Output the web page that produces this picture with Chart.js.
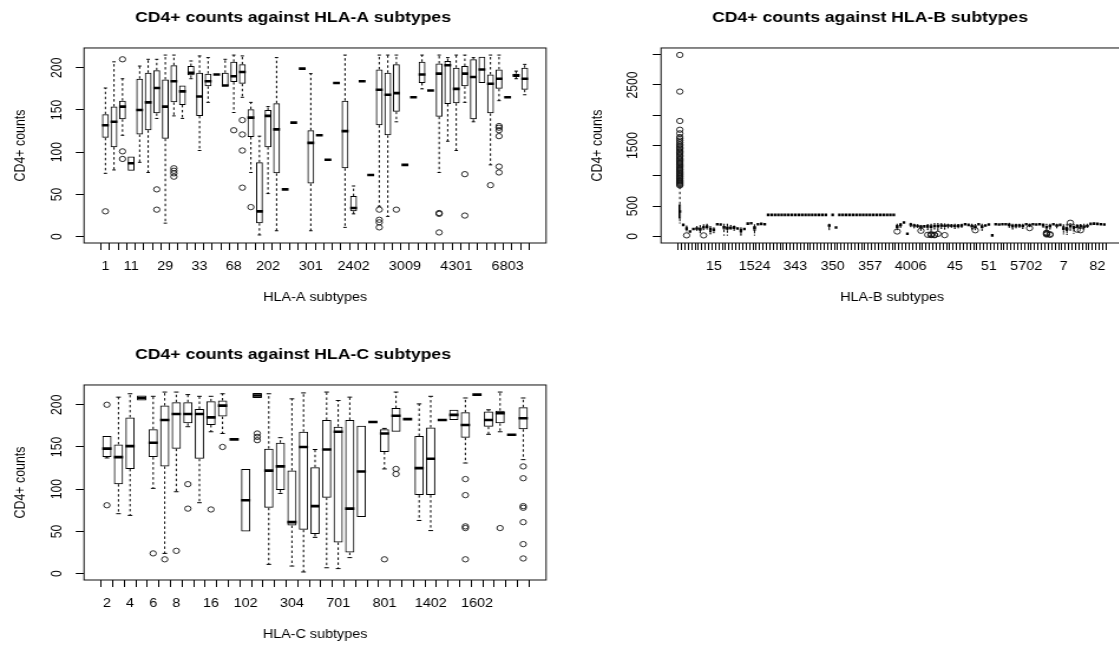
<!DOCTYPE html>
<html><head><meta charset="utf-8">
<script src="https://cdn.jsdelivr.net/npm/chart.js@4.4.1/dist/chart.umd.min.js"></script>
<style>
html,body{margin:0;padding:0;background:#fff;overflow:hidden;width:1119px;height:646px;}
canvas{position:absolute;transform-origin:0 0;transform:scaleX(1.18);}
</style></head>
<body>
<canvas id="cA" width="534" height="320" style="left:0px;top:0px"></canvas>
<canvas id="cB" width="534" height="320" style="left:577px;top:0px"></canvas>
<canvas id="cC" width="534" height="320" style="left:0px;top:337px"></canvas>
<script>
// ---------- HLA-A ----------
const aLabelPos  = [0, 3, 7, 11, 15, 19, 24, 29, 35, 41, 47];
const aLabelText = ['1','11','29','33','68','202','301','2402','3009','4301','6803'];
const aLo  = [75,79,120,78,88,76,140,16,143,140,187,102,159,192,178,147,165,76,2,51,7,56,135,199,7,120,91,182,11,27,184,73,36,24,136,85,165,175,173,76,113,102,159,136,182,85,161,165,187,168];
const aQ1  = [117,106,139,78,121,126,146,116,159,156,191,143,178,192,178,183,181,118,16,106,75,56,135,199,63,120,91,182,81,30,184,73,132,120,148,85,165,182,173,142,157,158,178,139,182,146,175,165,189,174];
const aMed = [132,136,154,87,150,159,176,154,184,172,194,166,184,192,179,190,195,141,30,143,127,56,135,199,111,120,91,182,125,34,184,73,174,168,170,85,165,192,173,193,203,175,193,189,198,181,187,165,191,187];
const aQ3  = [145,154,161,95,187,194,197,186,203,179,202,194,193,192,194,207,204,151,88,150,158,56,135,199,126,120,91,182,161,48,184,73,198,194,204,85,165,207,173,205,208,200,202,210,213,192,198,165,193,200];
const aHi  = [176,207,187,95,202,210,210,215,215,179,208,214,212,192,210,215,214,159,119,154,212,56,135,199,193,120,91,182,215,60,184,73,215,215,215,85,165,215,173,215,212,215,215,212,213,215,215,165,196,204];
const aOutIdx = [0,2,2,2,6,6,8,8,8,8,15,16,16,16,16,17,32,32,32,32,34,39,39,39,42,42,45,46,46,46,46,46,46];
const aOutVal = [30,210,101,92,56,32,81,78,75,71,126,138,121,102,58,35,32,20,17,11,32,28,27,5,74,25,61,131,129,126,119,83,76];
const aYTicks = [0,50,100,150,200];
const aYLabels = [0,50,100,150,200];

// ---------- HLA-B ----------
const bLabelPos  = [10, 22, 34, 45, 56, 68, 81, 91, 102, 113, 123];
const bLabelText = ['15','1524','343','350','357','4006','45','51','5702','7','82'];
const bLo = [220,190,90,80,120,100,60,110,120,40,60,200,195,20,20,120,100,130,20,120,210,215,20,200,205,200,
 355,355,355,355,355,355,355,355,355,355,355,355,355,355,355,355,355,355,
 110,355,147,
 355,355,355,355,355,355,355,355,355,355,355,355,355,355,355,355,355,
 110,150,228,43,160,140,150,100,165,110,100,120,100,130,120,140,150,130,140,150,200,190,120,110,200,100,180,195,16,200,195,200,200,150,120,140,150,130,200,160,200,195,200,150,100,120,200,140,190,40,30,100,50,140,130,120,150,205,210,205,200,195];
const bQ1 = [290,190,100,80,120,110,90,130,130,70,80,200,195,110,100,130,120,130,60,120,210,215,90,200,205,200,
 355,355,355,355,355,355,355,355,355,355,355,355,355,355,355,355,355,355,
 160,355,147,
 355,355,355,355,355,355,355,355,355,355,355,355,355,355,355,355,355,
 130,170,228,43,180,170,160,130,165,140,130,150,140,160,150,160,165,150,160,170,200,190,140,130,200,130,180,195,16,200,195,200,200,170,140,160,165,150,200,175,200,195,200,170,130,140,200,160,190,100,90,140,120,160,150,140,160,205,210,205,200,195];
const bMed = [410,190,130,80,120,130,120,150,160,120,110,200,195,150,140,140,150,130,90,120,210,215,140,200,205,200,
 355,355,355,355,355,355,355,355,355,355,355,355,355,355,355,355,355,355,
 180,355,147,
 355,355,355,355,355,355,355,355,355,355,355,355,355,355,355,355,355,
 160,190,228,43,195,180,170,160,165,165,160,170,170,180,175,180,175,170,175,180,200,190,170,160,200,160,180,195,16,200,195,200,200,190,170,180,180,170,200,185,200,195,200,185,150,170,200,180,190,130,120,170,150,170,170,160,170,205,210,205,200,195];
const bQ3 = [530,190,150,80,120,140,150,160,170,145,130,200,195,170,160,160,160,130,120,120,210,215,170,200,205,200,
 355,355,355,355,355,355,355,355,355,355,355,355,355,355,355,355,355,355,
 190,355,147,
 355,355,355,355,355,355,355,355,355,355,355,355,355,355,355,355,355,
 190,200,228,43,200,190,180,170,165,180,180,190,190,195,190,190,185,185,185,190,200,190,185,180,200,185,180,195,16,200,195,200,200,205,190,190,190,190,200,195,200,195,200,195,180,190,200,190,190,170,160,190,180,180,180,180,190,205,210,205,200,195];
const bHi = [830,190,170,80,120,160,175,190,200,160,140,200,195,200,200,180,170,130,140,120,210,215,190,200,205,200,
 355,355,355,355,355,355,355,355,355,355,355,355,355,355,355,355,355,355,
 200,355,147,
 355,355,355,355,355,355,355,355,355,355,355,355,355,355,355,355,355,
 200,210,228,43,215,200,190,180,165,195,200,210,210,210,205,200,195,200,195,200,200,190,200,195,200,200,180,195,16,200,195,200,200,215,200,200,200,200,200,200,200,195,200,205,200,200,200,200,190,190,200,210,200,190,195,200,200,205,210,205,200,195];
const bOutIdx = [0,0,0,0,0,0,0,0,0,0,0,0,0,0,0,0,0,0,0,0,0,0,0,0,0,0,0,0,0,0,0,0,0,0,0,0,0,0,0,0,0,0,0,0,0,
 2,7,64,71,73,74,74,74,75,75,76,78,87,103,108,108,108,108,109,109,115,117,118];
const bOutVal = [840,855,870,885,900,915,930,950,965,985,1000,1020,1040,1055,1075,1095,1110,1130,1150,1170,1190,1210,1230,1250,1270,1290,1315,1335,1360,1380,1400,1425,1450,1470,1495,1520,1550,1580,1610,1640,1700,1760,1905,2390,2995,
 16,16,80,92,25,20,28,35,18,26,40,20,100,136,60,50,40,30,35,25,225,110,100];
const bYTicks = [0,500,1000,1500,2000,2500,3000];
const bYLabels = [0,500,1500,2500];

// ---------- HLA-C ----------
const cLabelPos  = [0, 2, 4, 6, 9, 12, 16, 20, 24, 28, 32];
const cLabelText = ['2','4','6','8','16','102','304','701','801','1402','1602'];
const cLo  = [137,71,69,205,101,24,97,174,84,168,166,159,50,208,11,95,9,2,43,7,6,19,67,179.5,124,168,183,63,51,182,182,131,212,165,168,164.5,135];
const cQ1  = [138,106,124,205,138,127,148,178,136,176,186,159,50,208,78,99,57,52,47,90,37,25,67,179.5,144,168,183,93,93,182,182,161,212,174,178,164.5,171];
const cMed = [148,138,151,208,155,182,189,189,189,185,199,159,87,211,122,127,61,150,80,147,168,77,121,179.5,166,187,183,125,136,182,188,176,212,182,190,164.5,184];
const cQ3  = [163,153,185,211,171,199,203,203,195,204,205,159,124,214,148,155,122,168,126,182,174,182,175,179.5,171,196,183,163,173,182,194,191,212,192,193,164.5,197];
const cHi  = [163,209,213,211,210,215,215,212,210,210,213,159,124,214,213,161,207,214,147,215,205,209,175,179.5,172,215,183,201,210,182,194,208,212,194,215,164.5,208];
const cOutIdx = [0,0,4,5,6,7,7,9,10,13,13,13,24,25,25,31,31,31,31,31,34,36,36,36,36,36,36,36];
const cOutVal = [200,81,24,17,27,106,77,76,150,166,162,158,17,124,118,112,93,56,54,17,54,127,113,80,78,61,35,18];

Chart.defaults.font.family = '"Liberation Sans", Arial, Helvetica, sans-serif';
Chart.defaults.color = '#000';
Chart.defaults.animation = false;

const CANVAS_W = 534, AREA_L = 71.2, AREA_R = 462.8, AXIS_H = 77, PAD_R = 37.3;

const framePlugin = {
  id: 'frame',
  afterDraw(chart) {
    const {ctx, chartArea: a} = chart;
    ctx.save();
    ctx.strokeStyle = '#111';
    ctx.lineWidth = 1;
    ctx.strokeRect(a.left, a.top, a.right - a.left, a.bottom - a.top);
    ctx.restore();
  }
};

function panel(id, P) {
  const n = P.med.length;
  const boxes = [], meds = [], caps = [], whisk = [], outs = [];
  for (let i = 0; i < n; i++) {
    boxes.push({x: i, y: [P.q1[i], P.q3[i]]});
    meds.push({x: i, y: P.med[i]});
    if (P.hi[i] > P.q3[i]) {
      whisk.push({x: i, y: P.q3[i]}, {x: i, y: P.hi[i]}, {x: i, y: null});
      caps.push({x: i, y: P.hi[i]});
    }
    if (P.lo[i] < P.q1[i]) {
      whisk.push({x: i, y: P.q1[i]}, {x: i, y: P.lo[i]}, {x: i, y: null});
      caps.push({x: i, y: P.lo[i]});
    }
  }
  for (let j = 0; j < P.outIdx.length; j++) outs.push({x: P.outIdx[j], y: P.outVal[j]});
  const ext = 0.04 * n;
  const xmin = -0.5 - ext, xmax = n - 0.5 + ext;
  const step = (AREA_R - AREA_L) / (xmax - xmin);
  const bw = 0.8 * step;
  const tickFont = {size: 12.2};
  new Chart(document.getElementById(id), {
    type: 'bar',
    data: {datasets: [
      {type: 'scatter', data: meds, pointStyle: 'line', pointRadius: bw / 2, pointHoverRadius: bw / 2,
       borderColor: '#000', pointBorderColor: '#000', pointBorderWidth: 2.6, order: 0},
      {type: 'scatter', data: outs, pointStyle: 'circle', pointRadius: 2.65, pointHoverRadius: 2.65,
       borderColor: '#000', pointBorderColor: '#111', pointBackgroundColor: 'rgba(0,0,0,0)', pointBorderWidth: 0.9, order: 1},
      {type: 'scatter', data: caps, pointStyle: 'line', pointRadius: bw / 4, pointHoverRadius: bw / 4,
       borderColor: '#000', pointBorderColor: '#000', pointBorderWidth: 1, order: 1},
      {type: 'bar', data: boxes, backgroundColor: 'rgba(0,0,0,0)', borderColor: '#000', borderWidth: 1,
       borderSkipped: false, barPercentage: 0.8, categoryPercentage: 1, order: 2},
      {type: 'line', data: whisk, borderColor: '#000', borderWidth: 1, borderDash: [2.5, 2.5],
       pointRadius: 0, pointHoverRadius: 0, spanGaps: false, fill: false, order: 3}
    ]},
    options: {
      responsive: false,
      events: [],
      layout: {padding: {left: 0, right: PAD_R, top: 0, bottom: 0}},
      plugins: {
        legend: {display: false},
        tooltip: {enabled: false},
        title: {display: true, text: P.title, color: '#000',
                font: {size: 14.9, weight: 'bold'}, padding: {top: 8.7, bottom: 21.4}}
      },
      scales: {
        x: {
          type: 'linear', min: xmin, max: xmax, offset: false,
          afterBuildTicks: s => { s.ticks = Array.from({length: n}, (_, i) => ({value: i})); },
          afterFit: s => { s.height = AXIS_H; },
          ticks: {autoSkip: false, maxRotation: 0, minRotation: 0, padding: 9.4, font: tickFont, color: '#000',
                  callback: v => { const j = P.labelPos.indexOf(v); return j >= 0 ? P.labelText[j] : ''; }},
          grid: {display: true, drawOnChartArea: false, drawTicks: true, tickLength: 7, tickColor: '#000', tickWidth: 1},
          border: {display: false},
          title: {display: true, text: P.xTitle, color: '#000', font: {size: 12.2}, padding: {top: 0, bottom: 14.7}}
        },
        y: {
          type: 'linear', position: 'left', min: P.ymin, max: P.ymax,
          afterBuildTicks: s => { s.ticks = P.yTicks.map(v => ({value: v})); },
          afterFit: s => { s.width = AREA_L; },
          ticks: {minRotation: 90, maxRotation: 90, crossAlign: 'center', padding: P.yPad, font: tickFont, color: '#000',
                  callback: v => P.yLabels.includes(v) ? String(v) : ''},
          grid: {display: true, drawOnChartArea: false, drawTicks: true, tickLength: 7, tickColor: '#000', tickWidth: 1},
          border: {display: false},
          title: {display: true, text: 'CD4+ counts', color: '#000', font: {size: 12.4}, padding: {top: 10, bottom: 0}}
        },
        yR: {
          type: 'linear', position: 'right', display: true,
          afterFit: s => { s.width = CANVAS_W - PAD_R - AREA_R; },
          ticks: {display: false}, grid: {display: false}, border: {display: false}
        }
      }
    },
    plugins: [framePlugin]
  });
}

panel('cA', {title: 'CD4+ counts against HLA-A subtypes', xTitle: 'HLA-A subtypes',
  lo: aLo, q1: aQ1, med: aMed, q3: aQ3, hi: aHi, outIdx: aOutIdx, outVal: aOutVal,
  labelPos: aLabelPos, labelText: aLabelText, ymin: -7.5, ymax: 223.4,
  yTicks: aYTicks, yLabels: aYLabels, yPad: 5});
panel('cB', {title: 'CD4+ counts against HLA-B subtypes', xTitle: 'HLA-B subtypes',
  lo: bLo, q1: bQ1, med: bMed, q3: bQ3, hi: bHi, outIdx: bOutIdx, outVal: bOutVal,
  labelPos: bLabelPos, labelText: bLabelText, ymin: -110, ymax: 3110,
  yTicks: bYTicks, yLabels: bYLabels, yPad: 2.6});
panel('cC', {title: 'CD4+ counts against HLA-C subtypes', xTitle: 'HLA-C subtypes',
  lo: cLo, q1: cQ1, med: cMed, q3: cQ3, hi: cHi, outIdx: cOutIdx, outVal: cOutVal,
  labelPos: cLabelPos, labelText: cLabelText, ymin: -7.5, ymax: 223.4,
  yTicks: aYTicks, yLabels: aYLabels, yPad: 5});
</script>
</body></html>
